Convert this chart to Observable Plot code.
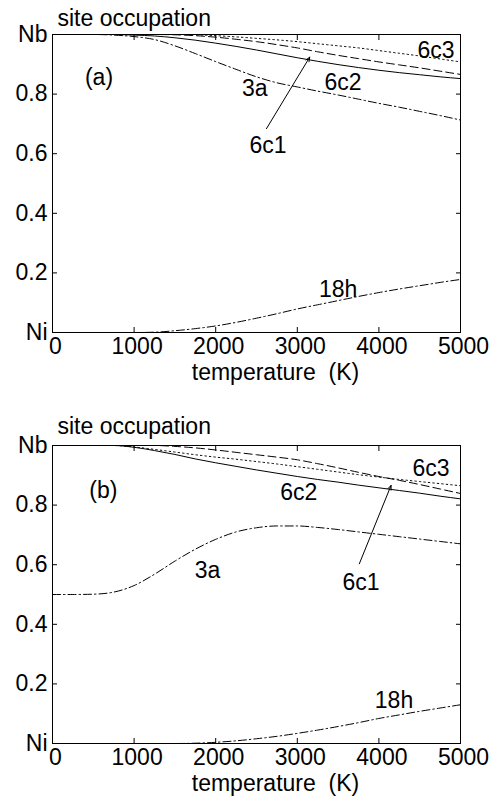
<!DOCTYPE html>
<html><head><meta charset="utf-8">
<script src="https://cdn.jsdelivr.net/npm/d3@7"></script>
<script src="https://cdn.jsdelivr.net/npm/@observablehq/plot@0.6"></script>
<style>
body{margin:0;background:#fff;}
#chart{width:498px;}
svg{display:block}
</style></head><body><div id="chart"></div>
<script>
// ---------- data ----------
const temperature = [0,250,500,750,1000,1250,1500,1750,2000,2250,2500,2750,3000,3250,3500,3750,4000,4250,4500,4750,5000];
const xTicks = [0,1000,2000,3000,4000,5000];
const xTickLabels = ["0","1000","2000","3000","4000","5000"];
const yTicks = [0,0.2,0.4,0.6,0.8,1];
const yTickLabels = ["Ni","0.2","0.4","0.6","0.8","Nb"];
const xLabel = "temperature  (K)";
const yLabel = "site occupation";

// panel (a)
const a_6c1 = [1,1,1,1,1,1,0.999,0.996,0.991,0.984,0.976,0.966,0.955,0.942,0.930,0.919,0.908,0.898,0.888,0.877,0.866];
const a_6c2 = [1,1,1,1,0.998,0.995,0.989,0.981,0.971,0.960,0.948,0.935,0.922,0.910,0.899,0.889,0.880,0.872,0.865,0.858,0.852];
const a_6c3 = [1,1,1,1,1,1,1,0.999,0.996,0.992,0.987,0.982,0.976,0.969,0.962,0.955,0.946,0.937,0.928,0.918,0.908];
const a_3a  = [1,1,1,0.998,0.993,0.983,0.962,0.936,0.909,0.883,0.858,0.838,0.824,0.810,0.797,0.783,0.769,0.756,0.742,0.728,0.713];
const a_18h = [0,0,0,0,0,0.001,0.006,0.013,0.022,0.034,0.048,0.063,0.079,0.093,0.107,0.121,0.134,0.146,0.157,0.168,0.178];

// panel (b)
const b_6c1 = [1,1,1,1,1,1,0.997,0.992,0.985,0.977,0.969,0.961,0.952,0.939,0.925,0.910,0.896,0.883,0.869,0.854,0.839];
const b_6c2 = [1,1,1,1,0.994,0.983,0.970,0.955,0.942,0.930,0.918,0.907,0.896,0.886,0.877,0.867,0.858,0.849,0.840,0.830,0.821];
const b_6c3 = [1,1,1,1,0.995,0.987,0.978,0.969,0.961,0.954,0.946,0.938,0.929,0.920,0.911,0.902,0.894,0.886,0.879,0.872,0.865];
const b_3a  = [0.5,0.5,0.501,0.508,0.530,0.568,0.612,0.652,0.685,0.710,0.724,0.730,0.730,0.725,0.718,0.710,0.702,0.694,0.686,0.678,0.670];
const b_18h = [0,0,0,0,0,0,0,0.001,0.004,0.009,0.016,0.024,0.034,0.045,0.057,0.070,0.084,0.096,0.108,0.119,0.130];

// annotations (data coordinates)
const a_labels = [
  {text:"(a)", t:570, v:0.856},
  {text:"3a", t:2480, v:0.819},
  {text:"6c2", t:3560, v:0.839},
  {text:"6c3", t:4700, v:0.946},
  {text:"6c1", t:2640, v:0.628},
  {text:"18h", t:3500, v:0.143}
];
const a_arrow = [{t1:2622, v1:0.684, t2:3152, v2:0.924}];
const b_labels = [
  {text:"(b)", t:623, v:0.848},
  {text:"3a", t:1900, v:0.580},
  {text:"6c2", t:3019, v:0.843},
  {text:"6c3", t:4640, v:0.922},
  {text:"6c1", t:3780, v:0.541},
  {text:"18h", t:4185, v:0.143}
];
const b_arrow = [{t1:3760, v1:0.603, t2:4149, v2:0.866}];

// ---------- drawing ----------
const FONT = "'Liberation Sans', Arial, Helvetica, sans-serif";
const FS = 23;
const styles = {
  "6c1": "8,4",
  "6c2": null,
  "6c3": "1.5,3",
  "3a": "8,3,1.5,3",
  "18h": "8,3,1.5,3"
};

function rows(name, values) {
  return temperature.map((t, i) => ({t, v: values[i], name}));
}

function panel({series, labels, arrow, height, marginTop, marginBottom, titleDy}) {
  const lineMarks = series.map(([name, values]) =>
    Plot.line(rows(name, values), {
      x: "t", y: "v", stroke: "black", strokeWidth: 1,
      strokeDasharray: styles[name], curve: "monotone-x"
    })
  );
  return Plot.plot({
    width: 498, height, marginTop, marginBottom, marginLeft: 52, marginRight: 38,
    style: {fontFamily: FONT, fontSize: FS + "px", color: "black", background: "white"},
    x: {domain: [0, 5000]},
    y: {domain: [0, 1]},
    marks: [
      ...lineMarks,
      Plot.frame({stroke: "black", strokeWidth: 1}),
      // inward ticks on all four sides
      Plot.axisX(xTicks, {anchor: "bottom", tickSize: 5, insetBottom: 5, fill: "none", label: null}),
      Plot.axisX(xTicks, {anchor: "top", tickSize: 5, insetTop: 5, fill: "none", label: null}),
      Plot.axisY(yTicks, {anchor: "left", tickSize: 5, insetLeft: 5, fill: "none", label: null}),
      Plot.axisY(yTicks, {anchor: "right", tickSize: 5, insetRight: 5, fill: "none", label: null}),
      // tick labels
      Plot.axisX(xTicks, {anchor: "bottom", tickSize: 0, tickPadding: 5, dx: 3, stroke: "none", fontSize: FS, label: null,
        tickFormat: (d) => xTickLabels[xTicks.indexOf(d)]}),
      Plot.axisY(yTicks, {anchor: "left", tickSize: 0, tickPadding: 5, stroke: "none", fontSize: FS, label: null,
        tickFormat: (d) => yTickLabels[yTicks.indexOf(d)]}),
      // axis titles
      Plot.text([yLabel], {frameAnchor: "top-left", dx: 5, dy: titleDy, textAnchor: "start", lineAnchor: "bottom", fontSize: FS, fill: "black"}),
      Plot.text([xLabel], {frameAnchor: "bottom", dx: 19, dy: 47, textAnchor: "middle", lineAnchor: "bottom", fontSize: FS, fill: "black"}),
      // curve labels
      Plot.text(labels, {x: "t", y: "v", text: "text", fontSize: FS, fill: "black", textAnchor: "middle", lineAnchor: "middle"}),
      Plot.arrow(arrow, {x1: "t1", y1: "v1", x2: "t2", y2: "v2", stroke: "black", strokeWidth: 1, headLength: 7, headAngle: 45})
    ]
  });
}

const chartA = panel({
  series: [["6c3", a_6c3], ["6c1", a_6c1], ["6c2", a_6c2], ["3a", a_3a], ["18h", a_18h]],
  labels: a_labels, arrow: a_arrow,
  height: 390, marginTop: 34, marginBottom: 58, titleDy: -9
});
const chartB = panel({
  series: [["6c3", b_6c3], ["6c1", b_6c1], ["6c2", b_6c2], ["3a", b_3a], ["18h", b_18h]],
  labels: b_labels, arrow: b_arrow,
  height: 407, marginTop: 55, marginBottom: 54, titleDy: -12
});
const root = document.getElementById("chart");
root.append(chartA, chartB);
</script>
</body></html>
